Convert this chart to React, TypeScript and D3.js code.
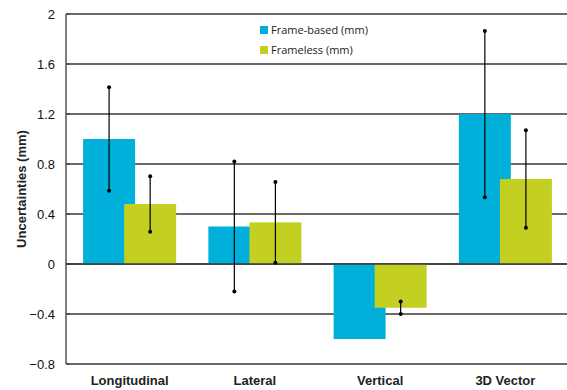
import React from 'react';
import * as d3 from 'd3';

const categories = ['Longitudinal', 'Lateral', 'Vertical', '3D Vector'];
const seriesNames = ['Frame-based (mm)', 'Frameless (mm)'];
const frameBased = [1.0, 0.3, -0.6, 1.2];
const frameless = [0.48, 0.333, -0.35, 0.68];
const frameBasedErr = [0.414, 0.52, 0, 0.665];
const framelessErr = [0.222, 0.323, 0.05, 0.39];
const yTicks = [-0.8, -0.4, 0, 0.4, 0.8, 1.2, 1.6, 2];
const colors = ['#00B0DA', '#C3D021'];

const width = 567;
const height = 390;
const margin = { top: 14, right: 0, bottom: 26, left: 66 };
const axisFont = "'Liberation Sans', Arial, sans-serif";

const App = () => {
  const x = d3
    .scaleBand()
    .domain(categories)
    .range([margin.left + 1, width - margin.right + 1]);
  const y = d3
    .scaleLinear()
    .domain([-0.8, 2])
    .range([height - margin.bottom, margin.top]);

  const barW = x.bandwidth() * 0.415;
  const step = barW * 0.79;
  const offset = (x.bandwidth() - barW - step) / 2;

  const series = [
    { name: seriesNames[0], values: frameBased, errs: frameBasedErr, color: colors[0] },
    { name: seriesNames[1], values: frameless, errs: framelessErr, color: colors[1] },
  ];

  return (
    <svg
      width={width}
      height={height}
      style={{ position: 'absolute', left: 0, top: 0, background: '#fff' }}
    >
      {/* grid */}
      {yTicks.map((t) => (
        <g key={t}>
          <line
            x1={margin.left}
            x2={width}
            y1={y(t)}
            y2={y(t)}
            stroke="#3a3a3a"
            strokeWidth={1.5}
          />
          <line x1={margin.left} x2={margin.left + 4} y1={y(t)} y2={y(t)} stroke="#3a3a3a" />
          <text
            x={55}
            y={y(t)}
            dy="0.35em"
            textAnchor="end"
            fontFamily={axisFont}
            fontSize={13}
            fill="#111"
          >
            {d3.format('')(t)}
          </text>
        </g>
      ))}
      <line
        x1={margin.left}
        x2={margin.left}
        y1={y(2)}
        y2={y(-0.8)}
        stroke="#555"
        strokeWidth={1.5}
      />

      {/* bars */}
      {series.map((s, si) =>
        categories.map((c, i) => {
          const v = s.values[i];
          const bx = (x(c) ?? 0) + offset + si * step;
          return (
            <rect
              key={`${si}-${c}`}
              x={bx}
              width={barW}
              y={Math.min(y(v), y(0))}
              height={Math.abs(y(v) - y(0))}
              fill={s.color}
            />
          );
        })
      )}
      {/* zero line redrawn over bars */}
      <line x1={margin.left} x2={width} y1={y(0)} y2={y(0)} stroke="#3a3a3a" strokeWidth={1.5} />

      {/* error bars */}
      {series.map((s, si) =>
        categories.map((c, i) => {
          const e = s.errs[i];
          if (!e) return null;
          const v = s.values[i];
          const cx = (x(c) ?? 0) + offset + si * step + barW / 2;
          return (
            <g key={`e-${si}-${c}`}>
              <line x1={cx} x2={cx} y1={y(v + e)} y2={y(v - e)} stroke="#000" strokeWidth={1.2} />
              <circle cx={cx} cy={y(v + e)} r={2} fill="#000" />
              <circle cx={cx} cy={y(v - e)} r={2} fill="#000" />
            </g>
          );
        })
      )}

      {/* x labels */}
      {categories.map((c) => (
        <text
          key={c}
          x={(x(c) ?? 0) + x.bandwidth() / 2}
          y={385}
          textAnchor="middle"
          fontFamily={axisFont}
          fontWeight="bold"
          fontSize={13}
          fill="#222"
        >
          {c}
        </text>
      ))}

      {/* y title */}
      <text
        transform={`translate(26,${(y(2) + y(-0.8)) / 2}) rotate(-90)`}
        textAnchor="middle"
        fontFamily={axisFont}
        fontWeight="bold"
        fontSize={13}
        fill="#222"
      >
        Uncertainties (mm)
      </text>

      {/* legend */}
      {series.map((s, si) => (
        <g key={s.name} transform={`translate(260,${26 + si * 20})`}>
          <rect x={0} y={0} width={8} height={8} fill={s.color} />
          <text
            x={11}
            y={4}
            dy="0.35em"
            fontFamily="'Open Sans', sans-serif"
            fontSize={11}
            fill="#222"
          >
            {s.name}
          </text>
        </g>
      ))}
    </svg>
  );
};

export default App;
